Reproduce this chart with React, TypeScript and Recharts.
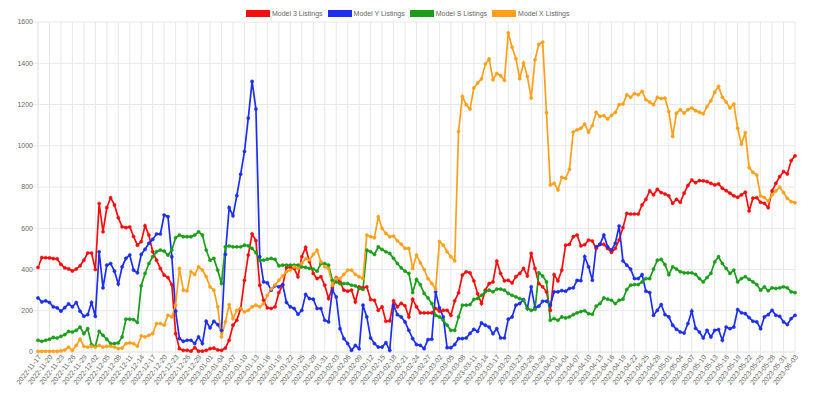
import { LineChart, Line, XAxis, YAxis, CartesianGrid } from 'recharts';

// daily listing counts, 2022-11-17 .. 2023-06-03
const model3 = [
	410, 458, 457, 456, 453, 452, 425, 408, 403, 393,
	402, 418, 445, 480, 480, 400, 720, 583, 700, 748,
	713, 651, 607, 603, 606, 560, 518, 535, 612, 567,
	486, 445, 405, 373, 361, 327, 89, 16, 8, 8,
	4, 21, 4, 4, 8, 16, 19, 10, 8, 19,
	57, 130, 154, 210, 348, 470, 572, 540, 324, 251,
	214, 211, 219, 288, 324, 410, 410, 405, 365, 462,
	507, 437, 381, 356, 365, 324, 259, 311, 360, 340,
	300, 295, 300, 243, 316, 311, 316, 254, 251, 202,
	219, 149, 151, 248, 219, 236, 224, 170, 256, 219,
	190, 190, 190, 190, 211, 198, 202, 202, 178, 248,
	287, 373, 389, 384, 345, 282, 235, 300, 332, 340,
	441, 381, 345, 348, 335, 365, 381, 405, 369, 478,
	405, 332, 316, 292, 202, 375, 345, 397, 518, 522,
	559, 567, 515, 520, 543, 538, 502, 522, 522, 502,
	483, 502, 543, 603, 672, 669, 669, 669, 713, 740,
	781, 762, 789, 773, 766, 757, 721, 740, 726, 770,
	807, 834, 821, 831, 830, 826, 818, 810, 815, 794,
	782, 770, 757, 750, 762, 775, 684, 746, 748, 726,
	721, 700, 781, 818, 850, 875, 863, 928, 951,
];

const modelY = [
	262, 243, 248, 240, 219, 214, 198, 215, 233, 219,
	240, 198, 173, 181, 240, 173, 486, 311, 421, 429,
	392, 330, 413, 454, 470, 397, 384, 473, 498, 527,
	546, 572, 572, 664, 656, 462, 198, 65, 52, 57,
	57, 41, 73, 41, 149, 117, 149, 133, 105, 473,
	700, 661, 758, 862, 972, 1134, 1312, 1178, 462, 340,
	335, 300, 321, 316, 327, 240, 219, 211, 183, 202,
	279, 259, 256, 211, 211, 154, 146, 300, 267, 113,
	65, 41, 8, 32, 16, 227, 170, 68, 41, 24,
	24, 45, 8, 227, 181, 170, 146, 105, 65, 36,
	32, 16, 60, 62, 292, 214, 170, 21, 21, 36,
	65, 65, 68, 90, 110, 100, 141, 130, 121, 89,
	113, 68, 68, 159, 170, 227, 235, 254, 211, 316,
	215, 222, 246, 246, 227, 292, 292, 298, 295, 308,
	311, 347, 346, 462, 413, 348, 510, 522, 567, 510,
	494, 527, 611, 442, 421, 402, 356, 356, 375, 295,
	288, 178, 202, 230, 181, 170, 130, 110, 97, 92,
	138, 198, 115, 97, 68, 105, 73, 105, 109, 57,
	121, 113, 121, 206, 190, 186, 167, 149, 146, 113,
	170, 181, 202, 178, 173, 146, 133, 162, 178,
];

const modelS = [
	57, 52, 57, 62, 71, 68, 76, 84, 100, 97,
	105, 121, 89, 113, 36, 28, 100, 81, 62, 41,
	41, 44, 73, 159, 159, 157, 143, 321, 381, 429,
	462, 486, 494, 489, 470, 494, 554, 567, 559, 559,
	559, 567, 583, 567, 494, 445, 454, 397, 332, 510,
	514, 510, 510, 510, 518, 515, 502, 482, 445, 445,
	450, 454, 449, 418, 421, 421, 421, 421, 421, 413,
	410, 405, 402, 392, 429, 429, 421, 348, 340, 332,
	332, 332, 324, 321, 308, 303, 494, 486, 473, 510,
	497, 486, 478, 454, 429, 408, 392, 381, 288, 352,
	327, 284, 262, 235, 178, 170, 154, 130, 105, 105,
	170, 227, 227, 230, 255, 260, 275, 292, 300, 292,
	305, 305, 300, 284, 275, 267, 259, 251, 211, 202,
	207, 384, 368, 340, 154, 162, 154, 170, 165, 170,
	181, 190, 196, 200, 186, 183, 222, 235, 262, 256,
	251, 235, 251, 256, 303, 324, 327, 327, 340, 356,
	356, 402, 445, 449, 424, 375, 413, 402, 389, 384,
	384, 384, 376, 356, 340, 361, 381, 437, 462, 429,
	405, 381, 397, 340, 356, 365, 352, 340, 327, 300,
	316, 297, 311, 308, 311, 316, 311, 292, 288,
];

const modelX = [
	3, 3, 3, 3, 3, 3, 5, 10, 24, 8,
	32, 62, 28, 24, 28, 24, 32, 24, 28, 28,
	24, 16, 19, 41, 44, 41, 28, 78, 73, 81,
	89, 138, 138, 130, 178, 170, 227, 405, 300, 297,
	389, 376, 413, 397, 365, 316, 300, 219, 73, 146,
	230, 162, 202, 211, 194, 202, 219, 227, 219, 235,
	275, 305, 324, 348, 369, 389, 397, 413, 405, 430,
	452, 446, 473, 494, 437, 413, 405, 324, 356, 356,
	376, 397, 397, 376, 365, 356, 567, 559, 554, 656,
	599, 575, 559, 562, 539, 523, 502, 502, 405, 470,
	433, 400, 356, 332, 305, 535, 518, 486, 462, 442,
	1069, 1239, 1199, 1178, 1280, 1304, 1324, 1396, 1421, 1320,
	1350, 1340, 1317, 1547, 1478, 1422, 1325, 1401, 1336, 1231,
	1417, 1492, 1502, 1160, 810, 818, 786, 847, 842, 886,
	1066, 1077, 1085, 1105, 1066, 1098, 1162, 1142, 1146, 1130,
	1147, 1162, 1199, 1202, 1247, 1235, 1253, 1247, 1264, 1223,
	1212, 1199, 1235, 1229, 1231, 1166, 1045, 1158, 1175, 1158,
	1175, 1183, 1170, 1163, 1155, 1190, 1218, 1260, 1288, 1235,
	1212, 1183, 1202, 1085, 1008, 1064, 894, 871, 858, 757,
	749, 732, 762, 781, 799, 773, 745, 729, 724,
];

const dates = model3.map((_, i) => new Date(Date.UTC(2022, 10, 17 + i)).toISOString().slice(0, 10));
const tickDates = dates.filter((_, i) => i % 3 === 0);
const yTicks = [0, 200, 400, 600, 800, 1000, 1200, 1400, 1600];

const series = [
	{ key: 'model3', name: 'Model 3 Listings', color: '#f70d0d' },
	{ key: 'modelY', name: 'Model Y Listings', color: '#1c2ef0' },
	{ key: 'modelS', name: 'Model S Listings', color: '#1a9e1a' },
	{ key: 'modelX', name: 'Model X Listings', color: '#ffa01a' },
];

const data = dates.map((date, i) => ({
	date,
	model3: model3[i],
	modelY: modelY[i],
	modelS: modelS[i],
	modelX: modelX[i],
}));

const FONT = '"Liberation Sans", Arial, Helvetica, sans-serif';
const GRID = '#e8e8e8';

const DateTick = ({ x, y, payload }: any) => {
	const ax = x + 2;
	const ay = y - 1;
	return (
		<text
			x={ax}
			y={ay}
			transform={`rotate(-52, ${ax}, ${ay})`}
			textAnchor="end"
			dominantBaseline="middle"
			fontSize={7}
			fontFamily={FONT}
			fill="#666"
		>
			{payload.value}
		</text>
	);
};

export default function App() {
	return (
		<div style={{ position: 'absolute', left: 0, top: 0, width: 820, height: 397, background: '#fff', fontFamily: FONT }}>
			<div style={{ position: 'absolute', left: 246, top: 10, display: 'flex', alignItems: 'center' }}>
				{series.map((s) => (
					<div key={s.key} style={{ display: 'flex', alignItems: 'center', marginRight: 5 }}>
						<div style={{ width: 24, height: 7, background: s.color }} />
						<span style={{ fontSize: 7, color: '#666', marginLeft: 2, lineHeight: '7px' }}>{s.name}</span>
					</div>
				))}
			</div>
			<LineChart width={820} height={397} data={data} margin={{ top: 22, right: 25, bottom: 0, left: 8 }}>
				<CartesianGrid stroke={GRID} strokeWidth={1} />
				<XAxis
					dataKey="date"
					ticks={tickDates}
					interval={0}
					height={45}
					tick={<DateTick />}
					tickSize={5}
					tickMargin={0}
					tickLine={{ stroke: GRID }}
					axisLine={{ stroke: GRID }}
				/>
				<YAxis
					domain={[0, 1600]}
					ticks={yTicks}
					width={30}
					tickSize={5}
					tickMargin={0}
					tickLine={{ stroke: GRID }}
					axisLine={{ stroke: GRID }}
					tick={{ fontSize: 7, fill: '#666', fontFamily: FONT }}
				/>
				{series.map((s) => (
					<Line
						key={s.key}
						type="linear"
						dataKey={s.key}
						name={s.name}
						stroke={s.color}
						strokeWidth={1.7}
						dot={{ r: 1.6, fill: s.color, stroke: s.color, strokeWidth: 0.5 }}
						isAnimationActive={false}
					/>
				))}
			</LineChart>
		</div>
	);
}
